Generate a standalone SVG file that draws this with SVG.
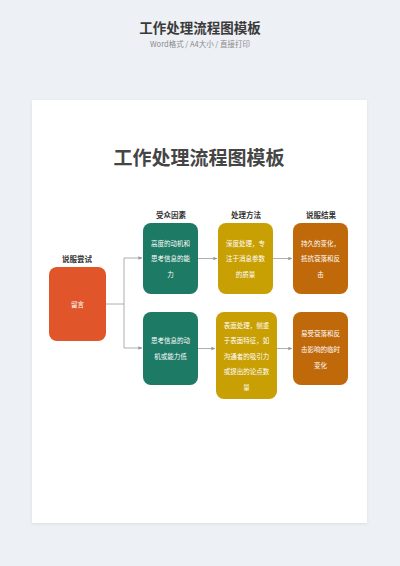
<svg xmlns="http://www.w3.org/2000/svg" width="400" height="566" viewBox="0 0 400 566">
<defs>
<style>
.hdr{font-family:"Noto Sans CJK SC","Noto Sans",sans-serif;}
.colh{font-family:"Noto Sans CJK SC",sans-serif;font-size:7.5px;font-weight:bold;fill:#333;text-anchor:middle;}
.bt{font-family:"Noto Sans CJK SC",sans-serif;font-size:6.5px;fill:#ffffff;text-anchor:middle;}
.conn{fill:none;stroke:#9a9a9a;stroke-width:0.8;}
.green{fill:#1D7A65;}
.yellow{fill:#C9A004;}
.orange{fill:#C0690B;}
.red{fill:#E0552A;}
</style>
<marker id="arr" viewBox="0 0 6 6" refX="5.5" refY="3" markerWidth="4" markerHeight="4" orient="auto" markerUnits="userSpaceOnUse">
<path d="M0,0.5 L6,3 L0,5.5 Z" fill="#9a9a9a"/>
</marker>
<filter id="sh" x="-5%" y="-5%" width="110%" height="110%">
<feDropShadow dx="0" dy="1" stdDeviation="1.5" flood-color="#000" flood-opacity="0.08"/>
</filter>
</defs>
<rect width="400" height="566" fill="#EDF0F5"/>
<text class="hdr" x="200" y="33" font-size="13.5" font-weight="bold" fill="#3a3a3a" text-anchor="middle">工作处理流程图模板</text>
<text class="hdr" x="200" y="46.5" font-size="7.5" fill="#8a8a8a" text-anchor="middle">Word格式 / A4大小 / 直接打印</text>
<rect x="32" y="100" width="335" height="423" fill="#ffffff" filter="url(#sh)"/>
<text class="hdr" x="199" y="165" font-size="19" font-weight="bold" fill="#454545" text-anchor="middle">工作处理流程图模板</text>

<g id="connectors">
<path class="conn" d="M106,304 H124"/>
<path class="conn" d="M124,258 V348"/>
<path class="conn" d="M124,258 H142" marker-end="url(#arr)"/>
<path class="conn" d="M124,348 H142" marker-end="url(#arr)"/>
<path class="conn" d="M198,258.5 H217" marker-end="url(#arr)"/>
<path class="conn" d="M273,258.5 H292" marker-end="url(#arr)"/>
<path class="conn" d="M198,348.5 H215" marker-end="url(#arr)"/>
<path class="conn" d="M277,348.5 H292" marker-end="url(#arr)"/>
</g>

<g id="col-headers">
<text class="colh" x="77" y="262">说服尝试</text>
<text class="colh" x="171" y="217.5">受众因素</text>
<text class="colh" x="246" y="217.5">处理方法</text>
<text class="colh" x="321" y="217.5">说服结果</text>
</g>

<g id="node-attempt">
<rect class="red" x="49" y="267" width="57" height="74" rx="8"/>
<text class="bt" x="77.5" y="306.5">留言</text>
</g>

<g id="node-audience-high">
<rect class="green" x="143" y="223" width="55" height="71" rx="8"/>
<text class="bt" x="170.5" y="245.5">高度的动机和</text>
<text class="bt" x="170.5" y="261">思考信息的能</text>
<text class="bt" x="170.5" y="276.5">力</text>
</g>

<g id="node-process-deep">
<rect class="yellow" x="218" y="223" width="55" height="71" rx="8"/>
<text class="bt" x="245.5" y="245.5">深度处理，专</text>
<text class="bt" x="245.5" y="261">注于消息参数</text>
<text class="bt" x="245.5" y="276.5">的质量</text>
</g>

<g id="node-result-lasting">
<rect class="orange" x="293" y="223" width="55" height="71" rx="8"/>
<text class="bt" x="320.5" y="245.5">持久的变化，</text>
<text class="bt" x="320.5" y="261">抵抗衰落和反</text>
<text class="bt" x="320.5" y="276.5">击</text>
</g>

<g id="node-audience-low">
<rect class="green" x="143" y="312" width="55" height="73" rx="8"/>
<text class="bt" x="170.5" y="342.5">思考信息的动</text>
<text class="bt" x="170.5" y="358.5">机或能力低</text>
</g>

<g id="node-process-shallow">
<rect class="yellow" x="216" y="312" width="61" height="87" rx="8"/>
<text class="bt" x="246.5" y="327.5">表面处理，侧重</text>
<text class="bt" x="246.5" y="343">于表面特征，如</text>
<text class="bt" x="246.5" y="358.5">沟通者的吸引力</text>
<text class="bt" x="246.5" y="374">或提出的论点数</text>
<text class="bt" x="246.5" y="389.5">量</text>
</g>

<g id="node-result-temp">
<rect class="orange" x="293" y="312" width="55" height="73" rx="8"/>
<text class="bt" x="320.5" y="335.5">易受衰落和反</text>
<text class="bt" x="320.5" y="351.5">击影响的临时</text>
<text class="bt" x="320.5" y="367.5">变化</text>
</g>
</svg>
